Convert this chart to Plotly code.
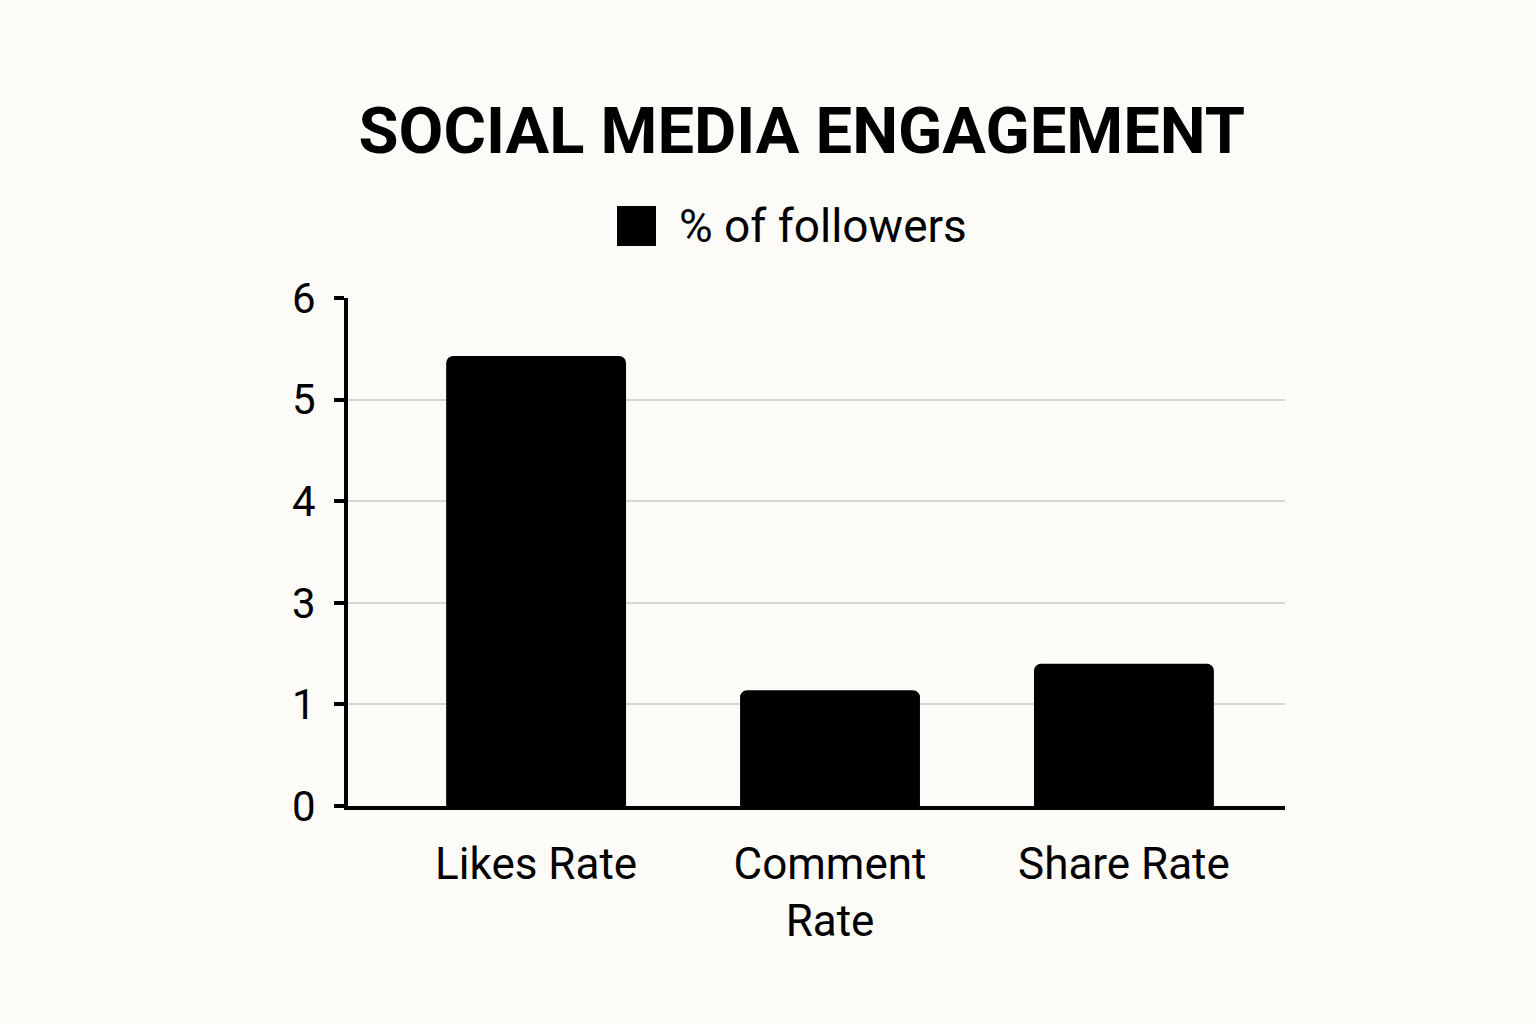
import numpy as np
import plotly.graph_objects as go

# data
categories = ['Likes Rate', 'Comment<br>Rate', 'Share Rate']
followers_pct = [5.43, 1.28, 1.80]
series_name = '% of followers'

# the y axis in the picture has evenly spaced ticks labelled 0,1,3,4,5,6
tick_labels = [0, 1, 3, 4, 5, 6]
tick_pos = list(range(len(tick_labels)))
bar_pos = np.interp(followers_pct, tick_labels, tick_pos)

bg = '#FCFBF7'
font = 'Roboto, Inter, sans-serif'

fig = go.Figure()
fig.add_trace(go.Bar(
    x=categories, y=bar_pos, name=series_name,
    marker=dict(color='black', line=dict(width=0)),
    width=0.612,
    customdata=followers_pct,
    hovertemplate='%{x}: %{customdata}<extra></extra>',
))

fig.update_layout(
    width=1536, height=1024,
    paper_bgcolor=bg, plot_bgcolor=bg,
    margin=dict(l=348, r=251, t=298, b=218),
    font=dict(family=font, color='black'),
    showlegend=False,
    barcornerradius=7,
    title=dict(text='<b>SOCIAL MEDIA ENGAGEMENT</b>', x=0.522, xanchor='center',
               y=0.873, yanchor='middle', font=dict(size=65, family=font, color='black')),
)

# legend drawn by hand so the swatch can be as big as in the picture
fig.add_shape(type='rect', xref='paper', yref='paper',
              x0=(617 - 348) / 937, x1=(656 - 348) / 937,
              y0=(806 - 246) / 508, y1=(806 - 206) / 508,
              fillcolor='black', line=dict(width=0))
fig.add_annotation(text=series_name, xref='paper', yref='paper',
                   x=(677 - 348) / 937, y=(806 - 226) / 508,
                   xanchor='left', yanchor='middle', showarrow=False,
                   font=dict(size=46, family=font, color='black'))

fig.update_xaxes(
    range=[-0.64, 2.548],
    showgrid=False, showline=True, linecolor='black', linewidth=4,
    ticks='', ticklabelstandoff=16,
    tickfont=dict(size=44, family=font, color='black'),
    fixedrange=True,
)
fig.update_yaxes(
    range=[0, 5], tickvals=tick_pos, ticktext=[str(t) for t in tick_labels],
    showgrid=True, gridcolor='#D6D6D6', gridwidth=2,
    showline=True, linecolor='black', linewidth=4,
    ticks='outside', ticklen=10, tickwidth=4, tickcolor='black',
    ticklabelstandoff=10,
    tickfont=dict(size=42, family=font, color='black'),
    zeroline=False, fixedrange=True,
)

fig.write_html('out.html', config={'displayModeBar': False},
               post_script="document.body.style.margin='0';"
                           "document.body.style.background='#FCFBF7';")
